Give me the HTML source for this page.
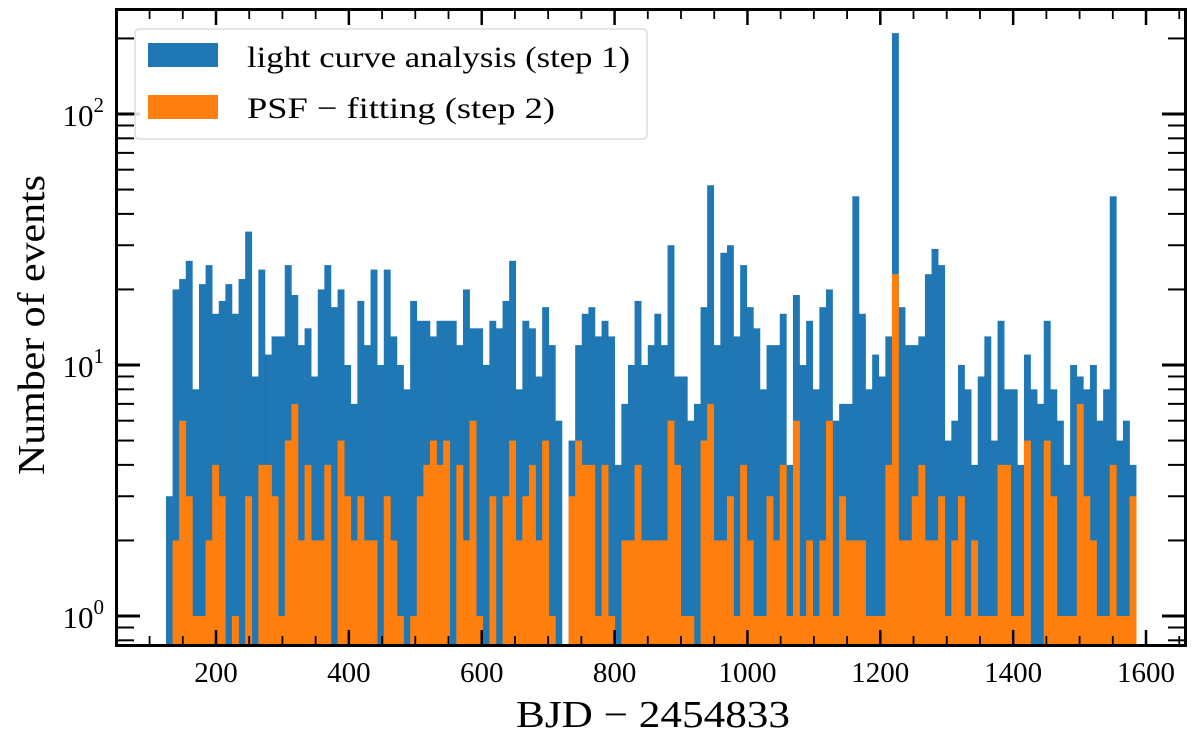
<!DOCTYPE html>
<html><head><meta charset="utf-8"><style>
html,body{margin:0;padding:0;background:#fff;}
svg{display:block;font-family:"Liberation Serif",serif;}
</style></head><body>
<svg id="chart" width="1200" height="735" viewBox="0 0 1200 735" xmlns="http://www.w3.org/2000/svg">
<g id="bars"></g>
<g id="ticks"></g>
<rect x="116.5" y="9.5" width="1069" height="636" fill="none" stroke="#000" stroke-width="3"/>
<g id="legend">
<rect x="135" y="29" width="512" height="110" rx="4" fill="#fff" fill-opacity="0.85" stroke="#ddd" stroke-width="1.5"/>
<rect x="148" y="43" width="70" height="24" fill="#1f77b4"/>
<text x="247" y="67" font-size="30" textLength="383" lengthAdjust="spacingAndGlyphs">light curve analysis (step 1)</text>
<rect x="148" y="95" width="70" height="24" fill="#ff7f0e"/>
<text x="247" y="118" font-size="30" textLength="308" lengthAdjust="spacingAndGlyphs">PSF − fitting (step 2)</text>
</g>
<text x="516" y="727" font-size="38" textLength="274" lengthAdjust="spacingAndGlyphs">BJD − 2454833</text>
<text transform="translate(44,475) rotate(-90)" font-size="38" textLength="300" lengthAdjust="spacingAndGlyphs">Number of events</text>
</svg>
<script>
const binStart = 124.7;
const binWidth = 9.935;
const step1Counts = [3,20,22,26,8,21,25,16,18,21,16,22,34,9,24,11,13,13,25,19,12,14,9,20,25,
17,20,10,7,18,12,24,10,24,13,10,8,18,15,15,13,15,15,15,12,20,14,14,10,15,
14,18,26,8,15,14,9,17,12,6,0,5,12,16,17,13,15,13,4,7,10,18,10,12,16,
12,30,9,9,6,7,17,52,12,28,30,13,25,17,14,8,12,12,16,4,19,10,15,8,17,
20,6,7,7,47,16,8,11,9,13,210,17,12,12,13,23,29,25,5,6,10,8,4,9,13,
5,15,8,8,4,11,8,7,15,8,6,4,10,9,8,10,6,8,47,5,6,4];
const step2Counts = [0,2,6,3,1,1,2,4,3,0,1,0,3,0,4,4,3,1,5,7,2,4,2,2,4,
0,5,3,2,3,2,2,0,3,2,1,0,1,3,4,5,4,5,0,4,2,6,1,0,3,
0,3,5,2,3,4,2,5,1,0,0,3,5,4,4,1,4,1,0,2,2,4,2,2,2,
2,6,4,1,1,0,5,7,2,2,3,1,4,2,1,1,3,2,4,1,6,1,2,1,2,
6,1,3,2,2,2,1,1,1,4,23,2,2,3,4,2,2,3,1,2,3,1,2,1,1,
1,4,4,1,1,5,0,0,5,3,1,1,1,7,3,2,1,1,4,1,1,3];
const xTickValues = [200,400,600,800,1000,1200,1400,1600];
const xTickLabels = ["200","400","600","800","1000","1200","1400","1600"];
const yTickExps = [0,1,2];

const NS="http://www.w3.org/2000/svg";
const L=118, R=1184, T=11, B=644;
function xs(v){ return 216 + (v-200)*0.6643; }
function ys(v){ return 616 - Math.log10(v)*251; }
function mk(tag, attrs, parent){
  const e=document.createElementNS(NS,tag);
  for(const k in attrs) e.setAttribute(k, attrs[k]);
  parent.appendChild(e); return e;
}
const bars=document.getElementById('bars');
function drawSeries(counts, color, name){
  counts.forEach((c,i)=>{
    if(c<=0) return;
    const x0=xs(binStart+i*binWidth), x1=xs(binStart+(i+1)*binWidth);
    const yt=Math.max(ys(c),T);
    const r=mk('rect',{x:x0.toFixed(2),y:yt.toFixed(2),width:(x1-x0+0.3).toFixed(2),height:(B-yt).toFixed(2),fill:color},bars);
    
    
  });
}
drawSeries(step1Counts,'#1f77b4','step1');
drawSeries(step2Counts,'#ff7f0e','step2');

const tk=document.getElementById('ticks');
function line(x1,y1,x2,y2,w){ return mk('line',{x1,y1,x2,y2,stroke:'#000','stroke-width':w},tk); }
for(let v=50; v<=1650; v+=50){
  const x=xs(v); if(x<L||x>R) continue;
  const major = v%200===0;
  const len = major?14:8, w = major?2.5:1.8;
  const a=line(x,B,x,B-len,w);
  
  
  const b=line(x,T,x,T+len,w);
  
  
}
xTickValues.forEach((v,i)=>{
  const t=mk('text',{x:xs(v),y:682,'font-size':29,'text-anchor':'middle'},tk);
  t.textContent=xTickLabels[i];
  
  
});
for(let e=-1;e<=2;e++){
  for(let m=1;m<=9;m++){
    const v=m*Math.pow(10,e); const y=ys(v);
    if(y<T||y>B) continue;
    const major=m===1, len=major?22:16, w=major?3:2;
    const a=line(L,y,L+len,y,w);
    
    
    const b=line(R,y,R-len,y,w);
    
    
  }
}
yTickExps.forEach(e=>{
  const t=mk('text',{x:104,y:ys(Math.pow(10,e))+12,'font-size':31,'text-anchor':'end'},tk);
  t.textContent='10';
  const s=mk('tspan',{dy:-14,'font-size':21},t);
  s.textContent=String(e);
  
  
});
</script>
</body></html>
